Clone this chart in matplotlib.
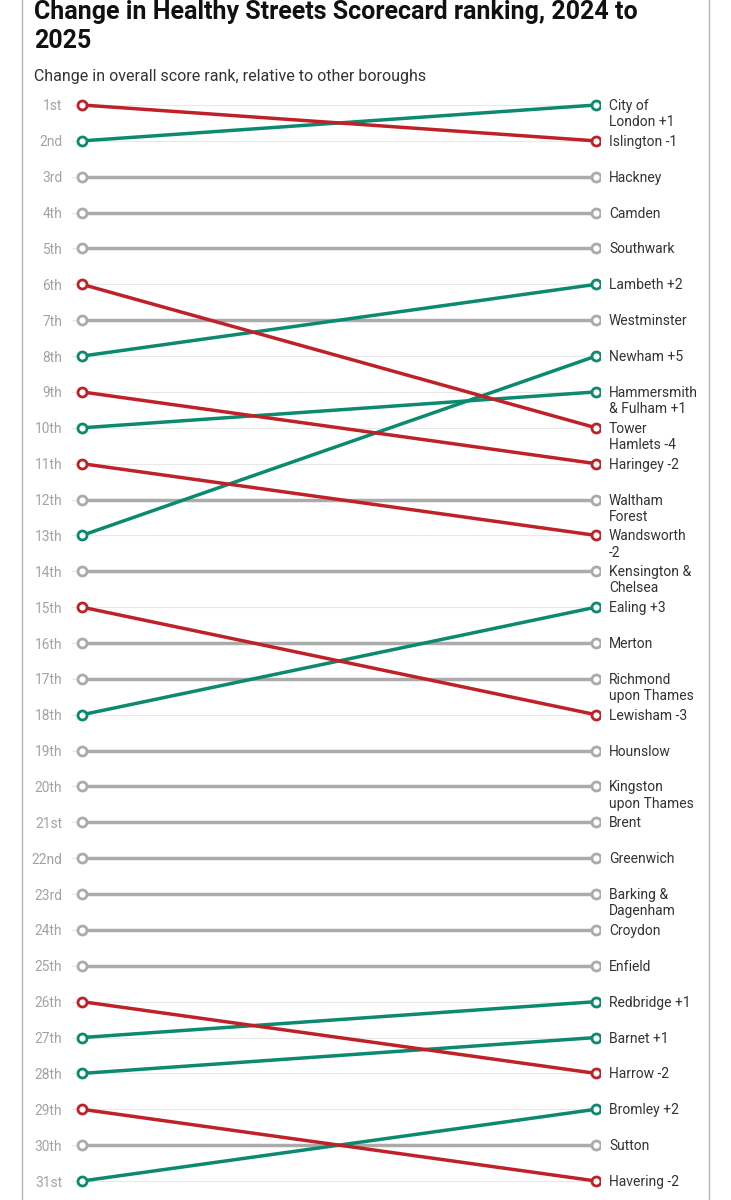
import matplotlib
matplotlib.use("Agg")
import matplotlib.pyplot as plt
from matplotlib.lines import Line2D

plt.rcParams['font.family'] = ['Roboto', 'DejaVu Sans']

boroughs = ["City of\nLondon +1", "Islington -1", "Hackney", "Camden", "Southwark",
            "Lambeth +2", "Westminster", "Newham +5", "Hammersmith\n& Fulham +1",
            "Tower\nHamlets -4", "Haringey -2", "Waltham\nForest", "Wandsworth\n-2",
            "Kensington &\nChelsea", "Ealing +3", "Merton", "Richmond\nupon Thames",
            "Lewisham -3", "Hounslow", "Kingston\nupon Thames", "Brent", "Greenwich",
            "Barking &\nDagenham", "Croydon", "Enfield", "Redbridge +1", "Barnet +1",
            "Harrow -2", "Bromley +2", "Sutton", "Havering -2"]
rank_2025 = list(range(1, 32))
rank_2024 = [2, 1, 3, 4, 5, 8, 7, 13, 10, 6, 9, 12, 11, 14, 18, 16, 17, 15, 19, 20,
             21, 22, 23, 24, 25, 27, 28, 26, 31, 30, 29]
rank_labels = ["1st", "2nd", "3rd", "4th", "5th", "6th", "7th", "8th", "9th", "10th",
               "11th", "12th", "13th", "14th", "15th", "16th", "17th", "18th", "19th",
               "20th", "21st", "22nd", "23rd", "24th", "25th", "26th", "27th", "28th",
               "29th", "30th", "31st"]

RED = "#bf2128"
GREEN = "#0b8a6f"
GREY = "#ababab"

W, H = 731, 1200
fig = plt.figure(figsize=(W / 100, H / 100), dpi=100)

# axes placement in pixels
ax_l, ax_r = 72, 600
ax_t, ax_b = 90, 1196
ax = fig.add_axes([ax_l / W, 1 - ax_b / H, (ax_r - ax_l) / W, (ax_b - ax_t) / H])
xl, xr = 82, 596
unit = xr - xl
ax.set_xlim(-(xl - ax_l) / unit, 1 + (ax_r - xr) / unit)
row = (1181 - 105) / 30
ax.set_ylim(31 + (ax_b - 1181) / row, 1 - (105 - ax_t) / row)

for s in ax.spines.values():
    s.set_visible(False)
ax.set_xticks([])
ax.set_yticks(rank_2025)
ax.set_yticklabels(rank_labels, color="#a3a3a3", fontsize=9.9)
ax.tick_params(axis='y', length=0, pad=7)
ax.grid(axis='y', color="#e8e8e8", linewidth=0.8)
ax.set_axisbelow(True)

def col(a, b):
    if b < a:
        return GREEN
    if b > a:
        return RED
    return GREY

order = sorted(range(len(boroughs)),
               key=lambda i: {GREY: 0, GREEN: 1, RED: 2}[col(rank_2024[i], rank_2025[i])])
for i in order:
    c = col(rank_2024[i], rank_2025[i])
    ax.plot([0, 1], [rank_2024[i], rank_2025[i]], color=c, linewidth=2.5,
            solid_capstyle='round', zorder=3)
    ax.plot([0, 1], [rank_2024[i], rank_2025[i]], linestyle='none', marker='o',
            markersize=6.5, markerfacecolor='white', markeredgecolor=c,
            markeredgewidth=2.0, zorder=4)

for i, name in enumerate(boroughs):
    ax.annotate(name, xy=(1, rank_2025[i]), xytext=(13, 6), textcoords='offset pixels',
                ha='left', va='top', fontsize=10.0, color="#333333",
                linespacing=1.2, annotation_clip=False)

fig.text(34 / W, 1 - 19 / H, "Change in Healthy Streets Scorecard ranking, 2024 to",
         fontsize=18, fontweight='bold', color="#111111", ha='left', va='baseline')
fig.text(34 / W, 1 - 48 / H, "2025",
         fontsize=18, fontweight='bold', color="#111111", ha='left', va='baseline')
fig.text(34 / W, 1 - 81 / H, "Change in overall score rank, relative to other boroughs",
         fontsize=11.5, color="#333333", ha='left', va='baseline')

# frame
for xp in (22, 709):
    fig.add_artist(Line2D([xp / W, xp / W], [0, 1], color="#b5b5b5", linewidth=1.0,
                          transform=fig.transFigure))

fig.savefig("out.png", dpi=100)
